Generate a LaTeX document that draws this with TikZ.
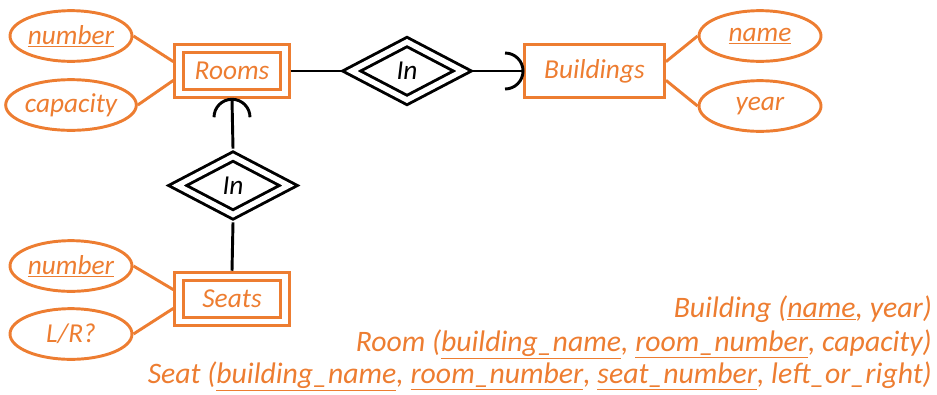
\documentclass[tikz,border=0pt]{standalone}
\usepackage{fontspec}
\setmainfont{Carlito}
\usetikzlibrary{shapes.geometric,calc}
\definecolor{erorange}{HTML}{ED7D31}
\begin{document}
\begin{tikzpicture}[x=0.75pt,y=0.75pt,
  font=\fontsize{20.5}{24}\selectfont\itshape,
  attr/.style={ellipse,draw=erorange,text=erorange,line width=2.2pt,minimum width=91.5pt,minimum height=38pt,inner sep=0pt},
  weakent/.style={rectangle,draw=erorange,text=erorange,line width=2.2pt,double,double distance=4pt,outer sep=4.2pt,minimum width=79.5pt,minimum height=34pt,inner sep=0pt},
  strongent/.style={rectangle,draw=erorange,text=erorange,line width=2.2pt,minimum width=105pt,minimum height=40pt,inner sep=0pt},
  idrel/.style={diamond,draw=black,text=black,line width=2.2pt,double,double distance=4pt,outer sep=4.2pt,minimum width=86.6pt,minimum height=47pt,inner sep=0pt,line join=miter},
  erline/.style={draw=black,line width=2.2pt},
  attrline/.style={draw=erorange,line width=2.2pt},
  schema/.style={text=erorange,anchor=base east,inner sep=0pt,font=\fontsize{22.3}{26}\selectfont\itshape}
]
\useasboundingbox (0,0) rectangle (937,-394);

% nodes
\node[weakent] (rooms) at (232,-71) {Rooms};
\node[weakent] (seats) at (232,-299) {Seats};
\node[strongent] (bld) at (594.5,-71) {Buildings};
\node[idrel] (in1) at (407,-71) {In};
\node[idrel] (in2) at (233,-185.5) {In};

\node[attr] (rnum) at (71,-36) {\underline{number}};
\node[attr] (rcap) at (71,-105) {capacity};
\node[attr] (snum) at (71,-266) {\underline{number}};
\node[attr] (slr) at (71,-334) {L/R?};
\node[attr] (bname) at (760,-36) {\underline{name}};
\node[attr] (byear) at (760,-106) {year};

% connectors
\draw[erline] (rooms.east) -- (in1.west);
\coordinate (bc) at ($(bld.west)+(-13.5pt,0)$);
\draw[erline] (in1.east) -- (bld.west);
\draw[erline] ($(bc)+(0,13.5pt)$) arc[start angle=90,end angle=-90,radius=13.5pt];

\coordinate (rc) at ($(rooms.south)+(0,-13.5pt)$);
\draw[erline] (in2.north) -- (rooms.south);
\draw[erline] ($(rc)+(-13.5pt,0)$) arc[start angle=180,end angle=0,radius=13.5pt];
\draw[erline] (in2.south) -- (seats.north);

\draw[attrline] (rnum.east) -- ([yshift=7pt]rooms.west);
\draw[attrline] (rcap.east) -- ([yshift=-7pt]rooms.west);
\draw[attrline] (snum.east) -- ([yshift=7pt]seats.west);
\draw[attrline] (slr.east) -- ([yshift=-7pt]seats.west);
\draw[attrline] ([yshift=7pt]bld.east) -- (bname.west);
\draw[attrline] ([yshift=-7pt]bld.east) -- (byear.west);

% relational schema
\node[schema] (s1) at (932,-317) {Building (\underline{name}, year)};
\node[schema] (s2) at (932,-351) {Room (\underline{building\_name}, \underline{room\_number}, capacity)};
\node[schema] (s3) at (932,-383) {Seat (\underline{building\_name}, \underline{room\_number}, \underline{seat\_number}, left\_or\_right)};
\end{tikzpicture}
\end{document}
